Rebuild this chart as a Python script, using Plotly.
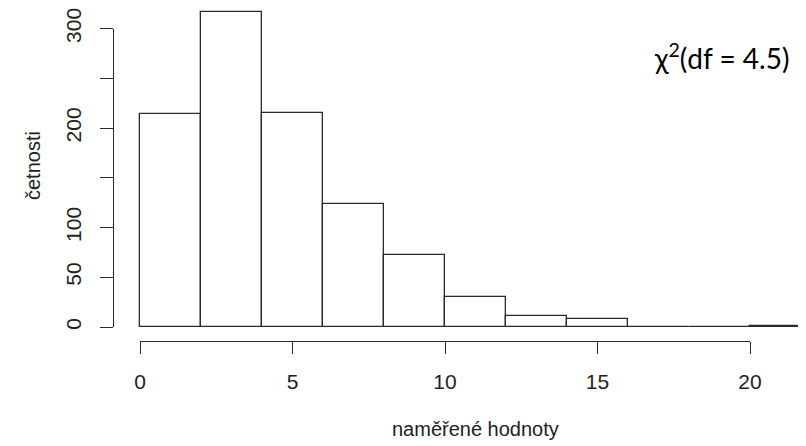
import plotly.graph_objects as go

# ---- data ----
bin_edges = [0, 2, 4, 6, 8, 10, 12, 14, 16, 18, 20, 22]
counts = [214, 317, 215, 124, 72, 30, 11, 8, 0, 0, 1]
x_ticks = [0, 5, 10, 15, 20]
y_ticks = [0, 50, 100, 150, 200, 250, 300]
y_tick_labels = ["0", "50", "100", "", "200", "", "300"]
x_title = "naměřené hodnoty"
y_title = "četnosti"
note = "χ<sup>2</sup>(df = 4.5)"

# the page body has an 8px margin: size the figure so it exactly fills the window
OFF = 8
W, H = 806 - OFF, 446 - OFF
centers = [(a + b) / 2 for a, b in zip(bin_edges[:-1], bin_edges[1:])]
widths = [b - a for a, b in zip(bin_edges[:-1], bin_edges[1:])]

# pixel geometry of the reference (window pixels), converted to figure pixels
px_per_x = 30.5
x0_px = 140.0 - OFF
px_per_y = 0.995
y0_px = 327.0 - OFF

x_range = [(0 - x0_px) / px_per_x, (W - x0_px) / px_per_x]
y_range = [(y0_px - H) / px_per_y, y0_px / px_per_y]

AX = "#2a2a2a"
FONT = "Liberation Sans, Arial, sans-serif"

fig = go.Figure()
fig.add_trace(go.Bar(
    x=centers, y=counts, width=widths,
    marker=dict(color="white", line=dict(color=AX, width=1.3)),
    hoverinfo="x+y", showlegend=False,
    xaxis="x", yaxis="y",
))
# invisible carriers for R-style detached axes
fig.add_trace(go.Scatter(x=[x_ticks[0]], y=[0], mode="markers", marker=dict(size=1, opacity=0),
                         hoverinfo="skip", showlegend=False, xaxis="x2", yaxis="y"))
fig.add_trace(go.Scatter(x=[0], y=[y_ticks[0]], mode="markers", marker=dict(size=1, opacity=0),
                         hoverinfo="skip", showlegend=False, xaxis="x", yaxis="y2"))

xaxis_y_px = 341 - OFF
yaxis_x_px = 113 - OFF
y_top_px = y0_px - y_ticks[-1] * px_per_y
x_right_px = x0_px + x_ticks[-1] * px_per_x

def px(xw):
    return (xw - OFF) / W

def py(yw):
    return (H - (yw - OFF)) / H

fig.update_layout(
    width=W, height=H,
    margin=dict(l=0, r=0, t=0, b=0, pad=0),
    paper_bgcolor="white", plot_bgcolor="rgba(0,0,0,0)",
    bargap=0,
    font=dict(family=FONT, color="#222", size=21),
    xaxis=dict(range=x_range, visible=False, domain=[0, 1], fixedrange=True, automargin=False),
    yaxis=dict(range=y_range, visible=False, domain=[0, 1], fixedrange=True, automargin=False),
    xaxis2=dict(
        domain=[x0_px / W, x_right_px / W], range=[x_ticks[0], x_ticks[-1]],
        anchor="free", position=(H - xaxis_y_px) / H, automargin=False,
        showline=True, linecolor=AX, linewidth=1.2,
        ticks="outside", ticklen=12, tickwidth=1.2, tickcolor=AX,
        tickvals=x_ticks, ticktext=[str(v) for v in x_ticks],
        showgrid=False, zeroline=False, ticklabelstandoff=10,
        ticklabeloverflow="allow",
        tickfont=dict(size=21, family=FONT, color="#222"),
    ),
    yaxis2=dict(
        domain=[(H - y0_px) / H, (H - y_top_px) / H], range=[y_ticks[0], y_ticks[-1]],
        anchor="free", position=yaxis_x_px / W, automargin=False,
        showline=True, linecolor=AX, linewidth=1.2,
        ticks="outside", ticklen=13, tickwidth=1.2, tickcolor=AX,
        tickvals=y_ticks, ticktext=y_tick_labels, tickangle=-90,
        showgrid=False, zeroline=False, ticklabelstandoff=11,
        ticklabeloverflow="allow",
        tickfont=dict(size=21, family=FONT, color="#222"),
    ),
    annotations=[
        dict(text=x_title, xref="paper", yref="paper",
             x=px(475), y=py(429), xanchor="center", yanchor="middle",
             showarrow=False, font=dict(size=20, family=FONT, color="#222")),
        dict(text=y_title, xref="paper", yref="paper",
             x=px(33), y=py(166), xanchor="center", yanchor="middle",
             textangle=-90, showarrow=False, font=dict(size=20, family=FONT, color="#222")),
        dict(text=note, xref="paper", yref="paper",
             x=px(652), y=py(57), xanchor="left", yanchor="middle",
             showarrow=False, font=dict(size=28, family="Lato, Carlito, sans-serif", color="black")),
    ],
)

fig.write_html("out.html")
